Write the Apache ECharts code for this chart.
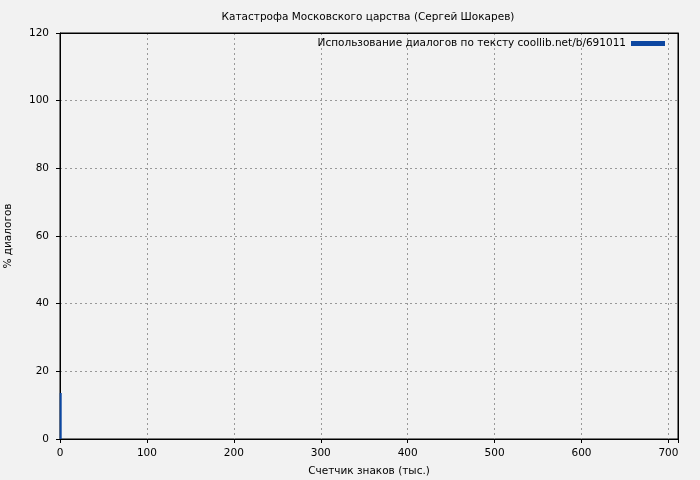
<!DOCTYPE html>
<html><head><meta charset="utf-8">
<script src="https://cdn.jsdelivr.net/npm/echarts@6/dist/echarts.min.js"></script>
<style>html,body{margin:0;padding:0;background:#f2f2f2}#c{width:700px;height:480px}</style>
</head><body><div id="c"></div>
<script>
const titleText = "Катастрофа Московского царства (Сергей Шокарев)";
const seriesName = "Использование диалогов по тексту coollib.net/b/691011";
const xLabel = "Счетчик знаков (тыс.)";
const yLabel = "% диалогов";
const xValues = [0.8, 0.8];
const yValues = [0, 13.6];

const font = "DejaVu Sans";
const fs = 10.5;
const frameAxis = {show: true, axisLine: {show: true, onZero: false, lineStyle: {color: '#000', width: 1}},
  axisTick: {show: false}, axisLabel: {show: false}, splitLine: {show: false}, z: 10};
const chart = echarts.init(document.getElementById('c'));
chart.setOption({
  backgroundColor: '#f2f2f2',
  animation: false,
  textStyle: {fontFamily: font},
  title: {text: titleText, left: 363, textAlign: 'center', top: 7,
    textStyle: {fontSize: fs, fontWeight: 'normal', color: '#000', fontFamily: font}},
  legend: {show: true, right: 30, top: 33, itemWidth: 34, itemHeight: 5, itemGap: 4,
    icon: 'rect', align: 'right',
    textStyle: {fontSize: fs, color: '#000', fontFamily: font},
    data: [{name: seriesName, icon: 'rect'}]},
  grid: {left: 60, right: 22, top: 33, bottom: 41, outerBoundsMode: 'none', containLabel: false,
    show: true, borderColor: '#000', borderWidth: 1, backgroundColor: 'transparent'},
  xAxis: [{type: 'value', min: 0, max: 711, interval: 100,
    name: xLabel, nameLocation: 'middle', nameGap: 27,
    nameTextStyle: {fontSize: fs, color: '#000', fontFamily: font},
    axisLine: {show: true, lineStyle: {color: '#000'}},
    axisTick: {show: true, inside: false, length: 4, lineStyle: {color: '#000'}},
    axisLabel: {fontSize: fs, color: '#000', margin: 9, fontFamily: font,
      formatter: v => (v % 100 === 0 ? String(v) : '')},
    splitLine: {show: true, lineStyle: {color: '#999', type: [2, 3], width: 1}}},
    Object.assign({type: 'value', position: 'top', min: 0, max: 711}, frameAxis)],
  yAxis: [{type: 'value', min: 0, max: 120, interval: 20,
    name: yLabel, nameLocation: 'middle', nameGap: 46, nameRotate: 90,
    nameTextStyle: {fontSize: fs, color: '#000', fontFamily: font},
    axisLine: {show: true, lineStyle: {color: '#000'}},
    axisTick: {show: true, inside: false, length: 4, lineStyle: {color: '#000'}},
    axisLabel: {fontSize: fs, color: '#000', margin: 11, fontFamily: font},
    splitLine: {show: true, lineStyle: {color: '#999', type: [2, 3], width: 1}}},
    Object.assign({type: 'value', position: 'right', min: 0, max: 120}, frameAxis)],
  series: [{name: seriesName, type: 'line', showSymbol: false, symbol: 'none',
    xAxisIndex: 0, yAxisIndex: 0,
    color: '#0d47a1',
    lineStyle: {width: 2, color: '#0d47a1'},
    data: xValues.map((x, i) => [x, yValues[i]])}]
});
</script></body></html>
